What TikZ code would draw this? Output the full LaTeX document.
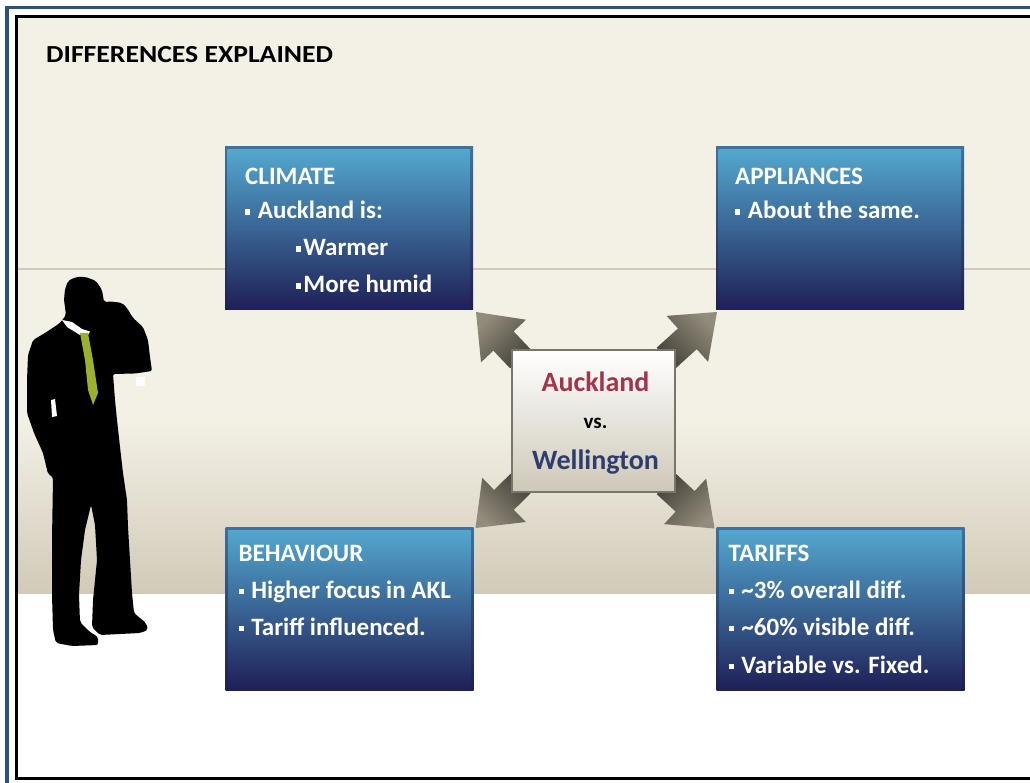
\documentclass[tikz,border=0pt]{standalone}
\usepackage{fontspec}
\usepackage{graphicx}
\setmainfont{Carlito}
\usetikzlibrary{calc}

\definecolor{frameblue}{HTML}{2A5082}
\definecolor{cream}{HTML}{F3F0E5}
\definecolor{sand}{HTML}{D1CAB8}
\definecolor{ruleline}{HTML}{CFCABD}
\definecolor{boxtop}{HTML}{53A7CE}
\definecolor{boxbot}{HTML}{1F1F57}
\definecolor{edgetop}{HTML}{3C72A0}
\definecolor{edgebot}{HTML}{1E1E52}
\definecolor{hubedge}{HTML}{7A756A}
\definecolor{hubbot}{HTML}{CEC8B8}
\definecolor{arrowlight}{HTML}{928C7C}
\definecolor{arrowdark}{HTML}{47433B}
\definecolor{aklred}{HTML}{A3354A}
\definecolor{wlgblue}{HTML}{2D3D6E}
\definecolor{tiegreen}{HTML}{9AB12E}

% small square bullet used in the panel lists
\newcommand\sqbullet{\raisebox{0.17em}{\rule{0.21em}{0.21em}}}

\tikzset{
  panel/.style={rectangle, inner sep=0pt, outer sep=0pt,
    minimum width=248pt, minimum height=163pt,
    top color=edgetop, bottom color=edgebot},
  hubbox/.style={rectangle, inner sep=0pt, outer sep=0pt,
    minimum width=163pt, minimum height=142pt,
    top color=white, bottom color=hubbot, draw=hubedge, line width=2.5pt},
  boxtext/.style={anchor=base west, inner sep=0pt, text=white,
    font=\bfseries\fontsize{25}{28}\selectfont},
  hubtext/.style={anchor=base, inner sep=0pt,
    font=\bfseries\fontsize{28}{32}\selectfont},
  titletext/.style={anchor=base west, inner sep=0pt, text=black,
    font=\bfseries\fontsize{24.5}{28}\selectfont},
}

% lighter inner face of a panel, leaving a darker rim on top and sides
\newcommand\panelface[1]{%
  \shade[top color=boxtop, bottom color=boxbot]
    ($(#1.north west)+(2.5,3)$) rectangle ($(#1.south east)+(-3,0)$);}

% broad arrow from a corner of the hub (#1) out to a tip (#2), shading angle #3
\newcommand\hubarrow[3]{%
  \coordinate (ahead) at ($(#2)!40pt!(#1)$);
  \coordinate (atail) at ($(#1)!-12pt!(#2)$);
  \shade[top color=arrowlight, bottom color=arrowdark, shading angle=#3]
    (#2) -- ($(ahead)!31pt!90:(#2)$) -- ($(ahead)!14pt!90:(#2)$)
    -- ($(atail)!14pt!90:(#2)$) -- ($(atail)!14pt!-90:(#2)$)
    -- ($(ahead)!14pt!-90:(#2)$) -- ($(ahead)!31pt!-90:(#2)$) -- cycle;}

\begin{document}
\begin{tikzpicture}[x=1pt, y=-1pt]
\useasboundingbox (0,0) rectangle (1030,783);
\clip (0,0) rectangle (1030,783);

% page and frames
\fill[white] (0,0) rectangle (1030,783);
\fill[cream] (17,17) rectangle (1040,420);
\shade[top color=cream, bottom color=sand] (17,420) rectangle (1040,594);
\fill[ruleline] (17,268) rectangle (1040,270.5);
\fill[white] (17,594) rectangle (1040,778);
\draw[frameblue, line width=3.5pt] (7,7.5) rectangle (1045,795);
\draw[black, line width=2.6pt] (16.3,16.3) rectangle (1038,778.3);

% heading
\node[titletext] (heading) at (46,63) {\scalebox{1.13}[1]{DIFFERENCES EXPLAINED}};

% man on the phone
\fill[black, rounded corners=2pt]
  (68,281) -- (76,277) -- (86,277) -- (96,281) -- (102,290) -- (104,302)
  -- (112,301.5) -- (122,303) -- (127,308) -- (133,318) -- (143,327)
  -- (148,340) -- (150,357) -- (152,371) -- (135,373.5) -- (113,374)
  -- (115,400) -- (117,420) -- (120,447) -- (123,473) -- (127,500)
  -- (128,527) -- (130,560) -- (132,593) -- (134,613) -- (146,623)
  -- (148,630) -- (140,633) -- (100,635) -- (92,627) -- (93,600)
  -- (97,560) -- (95,525) -- (91,505) -- (85,530) -- (81,560)
  -- (79,595) -- (80,622) -- (90,632) -- (98,637) -- (98,645)
  -- (72,646) -- (56,643) -- (53,630) -- (52,595) -- (52,540)
  -- (53,477) -- (48,474) -- (43,453) -- (34,433) -- (27,413)
  -- (27,380) -- (28,355) -- (33,340) -- (45,333) -- (60,323)
  -- (66,315) -- (64,300) -- (65,289) -- cycle;
\fill[white] (62,320) -- (72,322) -- (82,329) -- (90,331.5) -- (88,335)
  -- (80,335) -- (67,327) -- cycle;
\fill[tiegreen] (80,333) -- (88,333) -- (93,360) -- (98,393) -- (93,405)
  -- (88,390) -- (85,360) -- cycle;
\fill[white!80!cream] (136,377) rectangle (145,386);
\fill[white!85!cream] (51,400) -- (55,399) -- (57,416) -- (52,417) -- cycle;

% four panels
\node[panel] (climate)    at (349,228.5) {};
\node[panel] (appliances) at (840,228.5) {};
\node[panel] (behaviour)  at (349.5,608.5) {};
\node[panel] (tariffs)    at (840.5,609) {};
\panelface{climate}
\panelface{appliances}
\panelface{behaviour}
\panelface{tariffs}

% hub and its arrows
\coordinate (hub) at (593.5,421);
\node[hubbox, draw=none, shade=false, fill=none] (hubframe) at (hub) {};
\coordinate (tipTL) at ($(climate.south east)+(3,2)$);
\coordinate (tipTR) at ($(appliances.south west)+(1,2)$);
\coordinate (tipBL) at ($(behaviour.north east)+(2,1)$);
\coordinate (tipBR) at ($(tariffs.north west)+(-2,1)$);
\hubarrow{hubframe.north west}{tipTL}{45}
\hubarrow{hubframe.north east}{tipTR}{-45}
\hubarrow{hubframe.south west}{tipBL}{135}
\hubarrow{hubframe.south east}{tipBR}{-135}
\node[hubbox] (hubface) at (hub) {};

\node[hubtext, text=aklred] (akl) at ($(hubface.center)+(2,-30)$) {Auckland};
\node[hubtext, text=black, font=\bfseries\fontsize{21}{24}\selectfont] (vs) at ($(hubface.center)+(2,7)$) {vs.};
\node[hubtext, text=wlgblue] (wlg) at ($(hubface.center)+(2,48)$) {Wellington};

% panel texts
\node[boxtext] (climhead) at ($(climate.north west)+(20,38)$) {CLIMATE};
\node[boxtext] (clim1) at ($(climate.north west)+(20,72)$) {\sqbullet\hspace{0.3em}Auckland is:};
\node[boxtext] (clim2) at ($(climate.north west)+(71,109)$) {\sqbullet\hspace{0.08em}Warmer};
\node[boxtext] (clim3) at ($(climate.north west)+(71,146)$) {\sqbullet\hspace{0.08em}More humid};

\node[boxtext] (apphead) at ($(appliances.north west)+(19,38)$) {APPLIANCES};
\node[boxtext] (app1) at ($(appliances.north west)+(19,72)$) {\sqbullet\hspace{0.3em}About the same.};

\node[boxtext] (behhead) at ($(behaviour.north west)+(13,34)$) {BEHAVIOUR};
\node[boxtext] (beh1) at ($(behaviour.north west)+(13,71)$) {\sqbullet\hspace{0.3em}Higher focus in AKL};
\node[boxtext] (beh2) at ($(behaviour.north west)+(13,108)$) {\sqbullet\hspace{0.3em}Tariff influenced.};

\node[boxtext] (tarhead) at ($(tariffs.north west)+(12,34)$) {TARIFFS};
\node[boxtext] (tar1) at ($(tariffs.north west)+(12,71)$) {\sqbullet\hspace{0.3em}\textasciitilde 3\% overall diff.};
\node[boxtext] (tar2) at ($(tariffs.north west)+(12,108)$) {\sqbullet\hspace{0.3em}\textasciitilde 60\% visible diff.};
\node[boxtext] (tar3) at ($(tariffs.north west)+(12,146)$) {\sqbullet\hspace{0.3em}Variable vs. Fixed.};
\end{tikzpicture}
\end{document}
